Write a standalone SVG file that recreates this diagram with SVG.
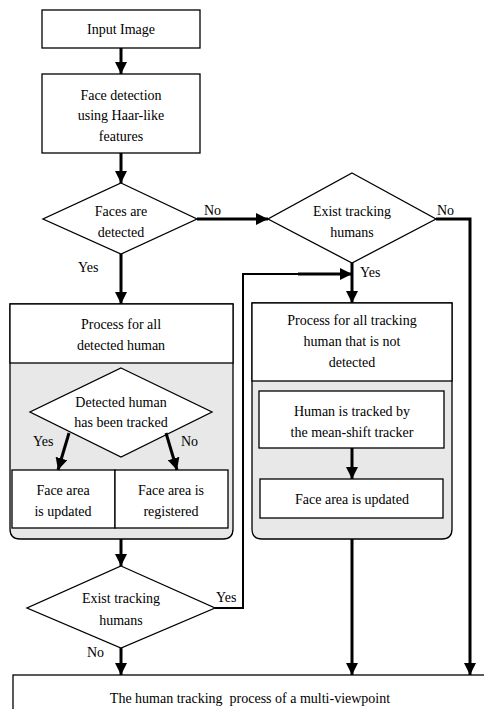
<svg xmlns="http://www.w3.org/2000/svg" width="484" height="709" viewBox="0 0 484 709">
<defs>
<marker id="ah" markerUnits="userSpaceOnUse" markerWidth="12" markerHeight="12" refX="12" refY="6" orient="auto">
<path d="M0,0 L12,6 L0,12 z" fill="#000"/>
</marker>
<style>
text{font-family:'Liberation Serif','DejaVu Serif','Times New Roman',serif;font-size:14px;fill:#000;text-anchor:middle}
.b{fill:#fff;stroke:#000;stroke-width:1.3}
.g{fill:#e8e8e8;stroke:#000;stroke-width:1.3}
.c{fill:none;stroke:#000;stroke-width:3}
.t{fill:none;stroke:#000;stroke-width:2}
.l{text-anchor:start}
</style>
</defs>
<rect width="484" height="709" fill="#fff"/>
<g id="input">
<rect class="b" x="42" y="10" width="158" height="38"/>
<text x="121" y="34">Input Image</text>
</g>
<g id="facedet">
<rect class="b" x="42" y="74" width="158" height="79"/>
<text x="121" y="100">Face detection</text>
<text x="121" y="120">using Haar-like</text>
<text x="121" y="141">features</text>
</g>
<g id="d1">
<polygon class="b" points="121,183 197,219 121,254 43,219"/>
<text x="121" y="216">Faces are</text>
<text x="121" y="237">detected</text>
<text x="204" y="215" class="l">No</text>
<text x="78" y="272" class="l">Yes</text>
</g>
<g id="d2">
<polygon class="b" points="352,173 436,219 352,263 268,219"/>
<text x="352" y="216">Exist tracking</text>
<text x="352" y="237">humans</text>
<text x="437" y="215" class="l">No</text>
<text x="360" y="277" class="l">Yes</text>
</g>
<g id="procL">
<path class="g" d="M10,304 H233 V529 Q233,539 223,539 H20 Q10,539 10,529 Z"/>
<rect class="b" x="10" y="304" width="223" height="59"/>
<text x="121" y="329">Process for all</text>
<text x="121" y="350">detected human</text>
</g>
<g id="d3">
<polygon class="b" points="121,368 212,412 121,457 30,412"/>
<text x="121" y="407">Detected human</text>
<text x="121" y="427">has been tracked</text>
<text x="33" y="446" class="l">Yes</text>
<text x="181" y="446" class="l">No</text>
</g>
<g id="upd">
<rect class="b" x="12" y="470" width="103" height="58"/>
<text x="63" y="495">Face area</text>
<text x="63" y="516">is updated</text>
</g>
<g id="reg">
<rect class="b" x="115" y="470" width="113" height="58"/>
<text x="171" y="495">Face area is</text>
<text x="171" y="516">registered</text>
</g>
<g id="procR">
<path class="g" d="M252,303 H452 V529 Q452,539 442,539 H262 Q252,539 252,529 Z"/>
<rect class="b" x="252" y="303" width="200" height="78"/>
<text x="352" y="325">Process for all tracking</text>
<text x="352" y="346">human that is not</text>
<text x="352" y="367">detected</text>
</g>
<g id="tracked">
<rect class="b" x="259" y="391" width="185" height="57"/>
<text x="352" y="416">Human is tracked by</text>
<text x="352" y="437">the mean-shift tracker</text>
</g>
<g id="upd2">
<rect class="b" x="260" y="479" width="183" height="39"/>
<text x="352" y="504">Face area is updated</text>
</g>
<g id="d4">
<polygon class="b" points="121,566 215,608 121,648 27,608"/>
<text x="121" y="603">Exist tracking</text>
<text x="121" y="625">humans</text>
<text x="216" y="602" class="l">Yes</text>
<text x="87" y="657" class="l">No</text>
</g>
<g id="final">
<rect class="b" x="13" y="675" width="480" height="50"/>
<text x="250" y="703" xml:space="preserve">The human tracking  process of a multi-viewpoint</text>
</g>
<g id="connectors">
<line class="c" x1="121" y1="48" x2="121" y2="74" marker-end="url(#ah)"/>
<line class="c" x1="121" y1="153" x2="121" y2="183" marker-end="url(#ah)"/>
<polyline class="c" points="197,219 268,219" marker-end="url(#ah)"/>
<polyline class="c" points="436,219 470,219 470,675" marker-end="url(#ah)"/>
<line class="c" x1="121" y1="254" x2="121" y2="304" marker-end="url(#ah)"/>
<line class="c" x1="352" y1="263" x2="352" y2="303" marker-end="url(#ah)"/>
<line class="c" x1="69" y1="433" x2="58" y2="470" marker-end="url(#ah)"/>
<line class="c" x1="166" y1="433" x2="177" y2="470" marker-end="url(#ah)"/>
<line class="c" x1="352" y1="448" x2="352" y2="479" marker-end="url(#ah)"/>
<line class="c" x1="121" y1="539" x2="121" y2="566" marker-end="url(#ah)"/>
<polyline class="t" points="215,608 243,608 243,274 300,274"/>
<line class="c" x1="298" y1="274" x2="352" y2="274" marker-end="url(#ah)"/>
<line class="c" x1="121" y1="648" x2="121" y2="675" marker-end="url(#ah)"/>
<line class="c" x1="352" y1="539" x2="352" y2="675" marker-end="url(#ah)"/>
</g>
</svg>
